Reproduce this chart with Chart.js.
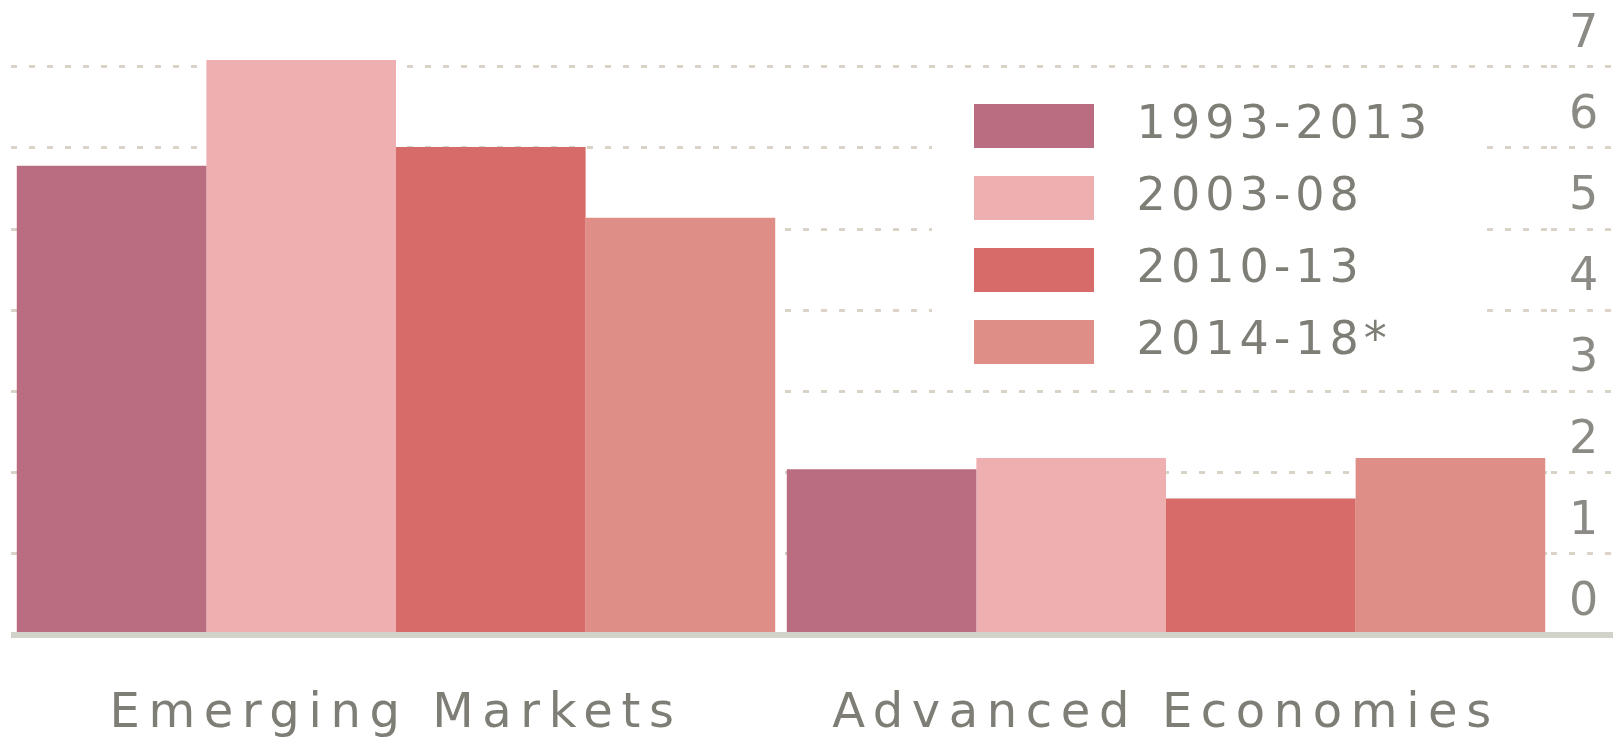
<!DOCTYPE html>
<html>
<head>
<meta charset="utf-8">
<script src="https://cdn.jsdelivr.net/npm/chart.js@4"></script>
<style>
  html, body { margin: 0; padding: 0; background: #ffffff; }
  #chart { display: block; }
</style>
</head>
<body>
<canvas id="chart" width="1623" height="738"></canvas>
<script>
// ===== values =====
const CATEGORIES = ['Emerging Markets', 'Advanced Economies'];
const PERIODS = ['1993-2013', '2003-08', '2010-13', '2014-18*'];
const GROWTH_1993_2013 = [5.78, 2.04];
const GROWTH_2003_08 = [7.08, 2.18];
const GROWTH_2010_13 = [6.01, 1.68];
const GROWTH_2014_18 = [5.14, 2.18];
const Y_TICKS = [0, 1, 2, 3, 4, 5, 6, 7];

const THEME = {
  text: '#7e7d76',
  tick: '#8b8a84',
  grid: '#d9d2c6',
  base: '#d1d2ca',
  bars: ['#ba6d80', '#edafb0', '#d66b69', '#df8e87'],
};
const FONT = 'DejaVu Sans';
const DOTS = [6, 12];

const isBase = (c) => c.tick && c.tick.value === 0;

// wide tracking on the labels, legend moved into the plot on a white patch
const layoutPlugin = {
  id: 'layoutTweaks',
  beforeUpdate(chart) { chart.ctx.letterSpacing = '8.6px'; },
  beforeDraw(chart) { chart.ctx.letterSpacing = '8.6px'; },
  afterLayout(chart) {
    const lg = chart.legend;
    if (!lg) return;
    lg.left = 948; lg.top = 77; lg.right = 1480; lg.bottom = 430;
    lg.width = lg.right - lg.left;
    lg.height = lg.bottom - lg.top;
  },
  afterDraw(chart) {
    const ctx = chart.ctx;
    ctx.save();
    ctx.fillStyle = '#ffffff';
    ctx.fillRect(932, 76, 546, 302);
    ctx.letterSpacing = '5px';
    chart.legend.draw();
    ctx.restore();
  }
};

const seriesValues = [GROWTH_1993_2013, GROWTH_2003_08, GROWTH_2010_13, GROWTH_2014_18];

new Chart(document.getElementById('chart'), {
  type: 'bar',
  data: {
    labels: CATEGORIES,
    datasets: PERIODS.map((label, i) => ({
      label,
      data: seriesValues[i],
      backgroundColor: THEME.bars[i],
      borderWidth: 0,
      categoryPercentage: 0.985,
      barPercentage: 1.0,
    }))
  },
  options: {
    responsive: false,
    animation: false,
    layout: { padding: { left: 11, top: 26, right: 0, bottom: 0 } },
    plugins: {
      tooltip: { enabled: false },
      legend: {
        position: 'chartArea',
        align: 'start',
        labels: {
          boxWidth: 120,
          boxHeight: 44,
          padding: 26,
          color: THEME.text,
          font: { family: FONT, size: 46 },
          generateLabels(chart) {
            return Chart.defaults.plugins.legend.labels.generateLabels(chart)
              .map((item) => ({ ...item, text: ' ' + item.text }));
          }
        }
      }
    },
    scales: {
      x: {
        grid: { display: false, drawTicks: false },
        border: { display: false },
        ticks: {
          color: THEME.text,
          font: { family: FONT, size: 48 },
          padding: 51,
          maxRotation: 0,
        },
        afterFit(scale) { scale.height = 103; }
      },
      y: {
        position: 'right',
        min: 0,
        max: 7.5,
        afterBuildTicks(scale) { scale.ticks = Y_TICKS.map((v) => ({ value: v })); },
        afterFit(scale) { scale.width = 72; },
        grid: {
          color: (c) => isBase(c) ? THEME.base : THEME.grid,
          lineWidth: (c) => isBase(c) ? 6 : 3,
          tickLength: 62,
          tickBorderDash: (c) => isBase(c) ? [] : DOTS,
        },
        border: {
          display: false,
          dash: (c) => isBase(c) ? [] : DOTS,
        },
        ticks: {
          color: THEME.tick,
          font: { family: FONT, size: 46 },
          padding: -44,
          labelOffset: -32,
        }
      }
    }
  },
  plugins: [layoutPlugin]
});
</script>
</body>
</html>
